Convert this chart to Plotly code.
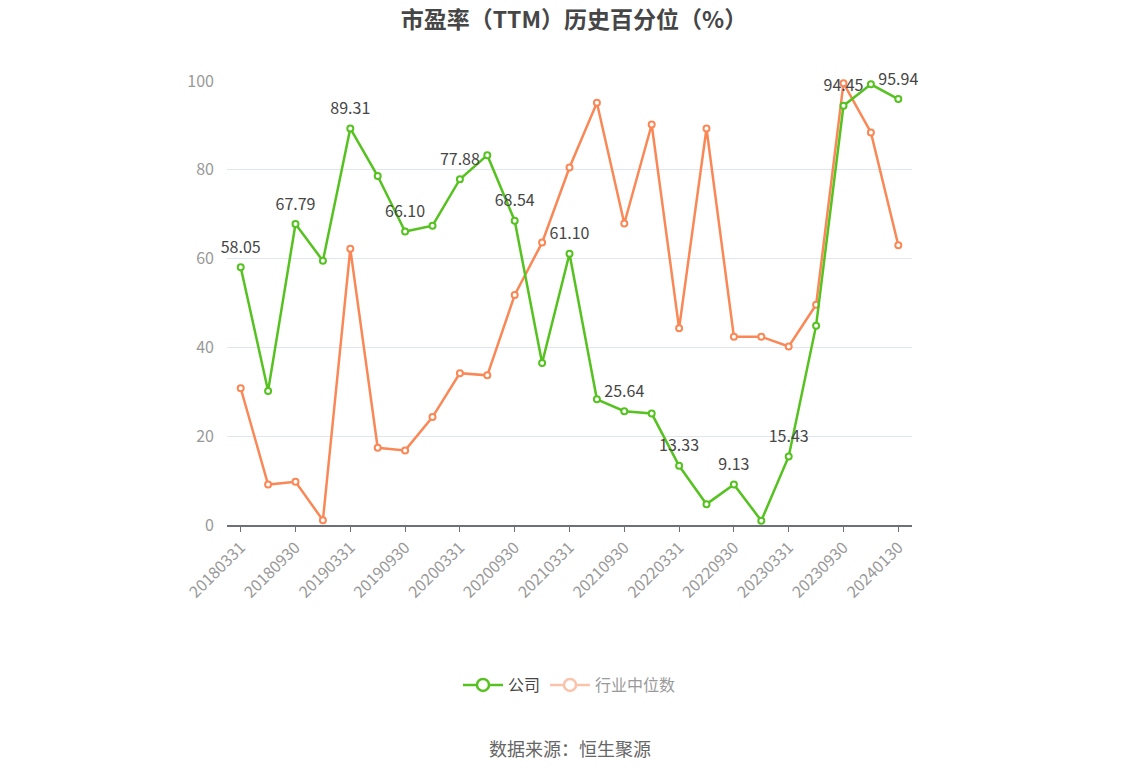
import plotly.graph_objects as go

categories = [
    "20180331", "20180630", "20180930", "20181231",
    "20190331", "20190630", "20190930", "20191231",
    "20200331", "20200630", "20200930", "20201231",
    "20210331", "20210630", "20210930", "20211231",
    "20220331", "20220630", "20220930", "20221231",
    "20230331", "20230630", "20230930", "20231231",
    "20240130",
]
company = [58.05, 30.2, 67.79, 59.5, 89.31, 78.6, 66.10, 67.4, 77.88, 83.3,
           68.54, 36.5, 61.10, 28.3, 25.64, 25.1, 13.33, 4.7, 9.13, 0.97,
           15.43, 44.9, 94.45, 99.25, 95.94]
industry = [30.8, 9.1, 9.75, 1.05, 62.2, 17.4, 16.8, 24.3, 34.2, 33.7,
            51.8, 63.6, 80.5, 95.1, 67.9, 90.2, 44.3, 89.3, 42.4, 42.4,
            40.2, 49.6, 99.5, 88.4, 63.0]
tick_labels = categories[::2]

GREEN = "#55C21F"
ORANGE = "#FA8856"
FONT = "Noto Sans CJK SC"

company_text = [f"{v:.2f}" if i % 2 == 0 else "" for i, v in enumerate(company)]

fig = go.Figure()
fig.add_trace(go.Scatter(
    x=categories, y=industry, mode="lines+markers", name="行业中位数",
    line=dict(color=ORANGE, width=2.5),
    marker=dict(symbol="circle", size=6, color="white", line=dict(color=ORANGE, width=2)),
    showlegend=False, cliponaxis=False,
))
fig.add_trace(go.Scatter(
    x=categories, y=company, mode="lines+markers", name="公司",
    line=dict(color=GREEN, width=2.5),
    marker=dict(symbol="circle", size=6, color="white", line=dict(color=GREEN, width=2)),
    showlegend=False, cliponaxis=False,
))
# data labels for the company series
fig.add_trace(go.Scatter(
    x=categories, y=company, mode="markers+text", name="公司",
    marker=dict(size=15, color="rgba(0,0,0,0)"),
    text=company_text, textposition="top center",
    textfont=dict(family=FONT, size=16, color="#464646"),
    showlegend=False, cliponaxis=False, hoverinfo="skip",
))
# legend entries
fig.add_trace(go.Scatter(
    x=[None], y=[None], mode="lines+markers", name="公司",
    line=dict(color=GREEN, width=2.5),
    marker=dict(symbol="circle", size=12, color="white", line=dict(color=GREEN, width=2.5)),
))
fig.add_trace(go.Scatter(
    x=[None], y=[None], mode="lines+markers",
    name='<span style="color:#9a9a9a">行业中位数</span>',
    line=dict(color="#FCC3AB", width=2.5),
    marker=dict(symbol="circle", size=12, color="white", line=dict(color="#FCC3AB", width=2.5)),
))

plot_h = 776 - 81 - 251

fig.update_layout(
    width=1148, height=776,
    margin=dict(l=227, r=1148 - 912, t=81, b=251),
    paper_bgcolor="white", plot_bgcolor="white",
    font=dict(family=FONT, color="#333"),
    title=dict(text="<b>市盈率（TTM）历史百分位（%）</b>", x=0.5, xanchor="center",
               y=1 - 20 / 776, yanchor="middle",
               font=dict(family=FONT, size=23, color="#464646")),
    showlegend=True,
    legend=dict(orientation="h", x=0.5, xanchor="center",
                y=(525 - 685) / plot_h, yanchor="middle",
                font=dict(family=FONT, size=16, color="#464646"),
                itemwidth=40, itemsizing="trace"),
    xaxis=dict(
        type="category", categoryorder="array", categoryarray=categories,
        range=[-0.5, len(categories) - 0.5],
        tickmode="array", tickvals=tick_labels, ticktext=tick_labels,
        tickangle=-45, tickfont=dict(family=FONT, size=16, color="#999"),
        ticks="outside", ticklen=5, tickcolor="#6E7079",
        showline=True, linecolor="#6E7079", linewidth=1.5,
        showgrid=False, zeroline=False,
    ),
    yaxis=dict(
        range=[0, 100], tickvals=[0, 20, 40, 60, 80, 100],
        tickfont=dict(family=FONT, size=16, color="#999"),
        showgrid=True, gridcolor="#E0E6F1", gridwidth=1,
        zeroline=False, showline=False, ticks="", ticklabelstandoff=12,
    ),
    annotations=[dict(
        text="数据来源：恒生聚源", x=0.5, xref="paper",
        y=(525 - 748) / plot_h, yref="paper", yanchor="middle",
        showarrow=False, font=dict(family=FONT, size=18, color="#666"),
    )],
)

fig.write_html("out.html")
